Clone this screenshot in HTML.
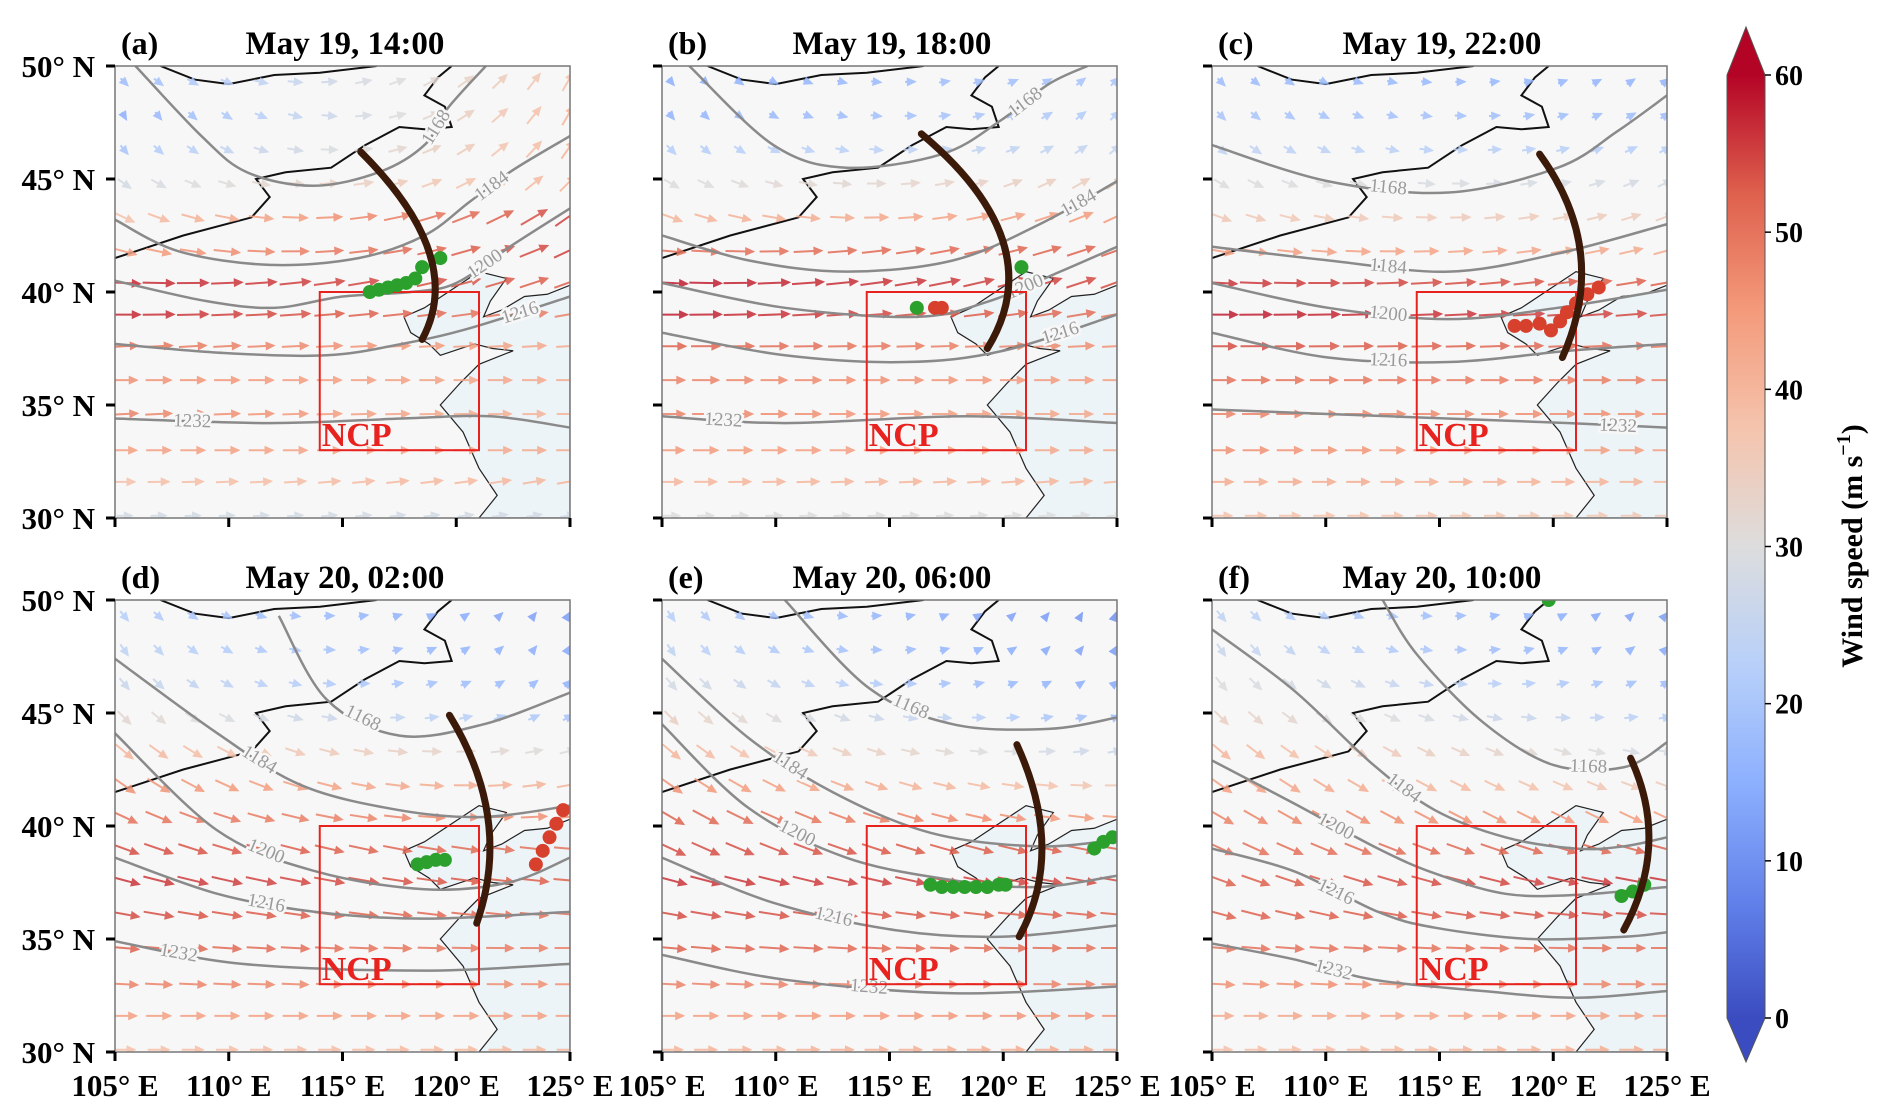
<!DOCTYPE html>
<html><head><meta charset="utf-8">
<style>
html,body{margin:0;padding:0;background:#fff;}
svg{display:block;font-family:"Liberation Serif",serif;}
</style></head>
<body>
<svg id="fig" width="1892" height="1118" viewBox="0 0 1892 1118" xmlns="http://www.w3.org/2000/svg"></svg>
<script>
// ---------- data ----------
const panelIds = ['a','b','c','d','e','f'];
const panelTitles = ['May 19, 14:00','May 19, 18:00','May 19, 22:00','May 20, 02:00','May 20, 06:00','May 20, 10:00'];
const panelOrigins = [[115,66],[662,66],[1212,66],[115,600],[662,600],[1212,600]];
const yTicks = [50,45,40,35,30];
const xTicks = [105,110,115,120,125];
const cbTicks = [0,10,20,30,40,50,60];
const rowLats = [30.1,31.6,33.0,34.6,36.1,37.6,39.0,40.4,41.8,43.3,44.8,46.3,47.8,49.3];
const colLons = [105.4,106.9,108.4,109.9,111.4,112.9,114.4,115.9,117.4,118.9,120.4,121.9,123.4,124.9];
const speedW = [
 [28,38,44,48,46,50,57,57,44,38,28,20,15,18],
 [30,40,45,48,48,52,58,58,50,40,30,22,16,15],
 [38,42,46,48,50,54,58,56,44,36,30,24,20,18],
 [38,44,48,52,54,56,54,50,46,40,32,26,24,22],
 [40,44,48,52,54,56,54,52,46,40,34,28,24,22],
 [38,42,46,50,52,52,50,48,44,40,34,30,26,24]];
const speedE = [
 [28,40,42,40,42,42,48,52,55,55,40,40,40,38],
 [30,40,42,42,44,46,50,54,52,45,35,25,22,20],
 [36,40,44,46,48,50,54,52,42,35,28,22,18,16],
 [40,44,46,48,50,52,50,46,40,30,20,16,14,12],
 [42,46,48,50,52,54,52,44,36,26,18,14,12,10],
 [42,44,48,50,54,56,52,44,35,28,22,18,14,12]];
const angW = [
 [0,0,0,3,0,3,0,-3,-15,-25,-35,-50,-60,-45],
 [0,0,0,0,0,0,0,-3,-5,-20,-30,-45,-50,-50],
 [0,0,0,0,0,0,0,-3,-10,-20,-30,-40,-45,-45],
 [0,0,-3,-5,-10,-15,-20,-25,-35,-40,-45,-50,-55,-50],
 [0,0,-3,-5,-10,-15,-25,-30,-35,-40,-45,-50,-55,-55],
 [0,0,-3,-5,-15,-20,-25,-30,-35,-40,-45,-50,-55,-50]];
const angE = [
 [10,10,0,0,0,3,10,20,25,35,45,55,60,60],
 [5,5,0,0,0,3,10,20,20,25,35,40,45,45],
 [0,0,0,0,0,3,5,10,15,20,25,30,35,40],
 [0,0,0,0,-5,-5,-5,5,10,15,30,45,60,60],
 [0,0,0,0,-5,-10,-10,-5,0,10,20,40,60,70],
 [0,0,0,0,-3,-10,-15,-25,-20,-10,10,30,45,50]];
const contourLevels = [1168,1184,1200,1216,1232];
const contourLons = [
 [[105.9,108.8,110.8,113.7,116.6,118.6,119.6,121.3],[105,107.8,111.8,115.7,118.6,120.6,122.5,125],[105,109,112,115,118,120,122.5,125],[105,109.8,114.3,117.6,120.6,125],[105,111.8,117.6,121.5,125]],
 [[106.2,109.9,113.1,117.3,119.9,122,123.7],[105,108.8,113.1,117.8,121.6,125],[105,110.4,116.2,119.4,122.5,125],[105,110.4,115.7,120,125],[105,110.4,118.4,125]],
 [[105,110.1,115.4,120.2,122.8,125],[105,110.1,115.4,120.2,125],[105,110.1,115.4,120.2,125],[105,110.1,115.4,120.7,125],[105,112.8,120.7,125]],
 [[112.2,114.3,117.5,121.2,125],[105,109.5,113.2,117.5,121.2,125],[105,109.5,113.8,118.6,122.3,125],[105,109.5,113.8,118.6,125],[105,110.6,118.6,125]],
 [[110.4,114.1,117.8,122,125],[105,108.8,112.5,116.8,121.5,125],[105,108.8,113.1,117.8,121.5,125],[105,109.9,115.2,119.9,125],[105,110.4,117.8,125]],
 [[112.5,114,116.9,120,123.1,125],[105,108.6,112.1,114.8,117.9,121,123.1,125],[105,108.6,112.3,114.8,117.9,121,125],[105,108.6,112.3,114.8,119,123.1,125],[105,108.6,112.1,116.9,121,125]]];
const contourLats = [
 [[50,46.9,45.3,44.7,45.3,46.5,48.1,50],[43.2,41.8,41.2,41.5,42.5,44,45.4,46.9],[40.5,39.6,39.3,39.8,40,40.4,42.1,43.7],[37.7,37.3,37.2,37.7,38.4,39.8],[34.4,34.2,34.4,34.5,34.0]],
 [[50,46.5,45.5,46.1,47.6,49.2,50],[42.5,41.4,40.9,41.4,43,44.9],[40.4,39.3,38.9,39.6,40.9,42],[38.2,37.2,36.9,37.4,39],[34.5,34.2,34.5,34.2]],
 [[46.5,44.9,44.4,45.5,47.1,48.7],[42,41.4,40.9,41.7,43],[40.4,39.3,38.8,39.3,40.1],[38.2,37.1,36.9,37.4,37.7],[34.8,34.5,34.2,34.0]],
 [[49.3,45.6,44,44.5,45.9],[47.4,44.1,41.8,40.7,40.4,40.9],[44.1,39.8,38,37.2,37.5,38.6],[38.6,37,36.2,35.9,36.2],[34.9,33.9,33.6,33.9]],
 [[50,46.1,44.5,44.3,44.8],[47.4,43.9,41.5,39.7,39.1,39.4],[44.5,40.8,38.6,37.6,37.3,37.8],[38.6,36.6,35.4,35.1,35.6],[34.3,33.2,32.6,32.9]],
 [[50,47.6,44.6,42.7,42.6,43.7],[48.7,46,42.7,40.7,39.5,39,39.1,39.5],[42.9,41,39,37.9,37,36.95,37.3],[39,38,36.2,35.5,35,35.1,35.3],[34.8,34.1,33.2,32.7,32.4,32.7]]];
const labelSeg = [[5,5,5,4,0],[4,4,3,3,0],[1,1,1,1,2],[1,1,1,1,0],[1,1,1,1,1],[3,2,1,1,1]];
const arcLons = [[115.8,118.8,118.5],[116.4,120,119.3],[119.4,121.2,120.4],[119.7,121.4,120.9],[120.6,121.7,120.7],[123.4,124.2,123.1]];
const arcLats = [[46.2,41.8,37.9],[47,42.2,37.5],[46.1,41.7,37.1],[44.9,40.3,35.7],[43.6,39.1,35.1],[43,39.2,35.4]];
const dotLons = [
 [116.2,116.6,117,117.4,117.8,118.2,118.5,119.3],
 [116.2,117,117.3,120.8],
 [118.3,118.8,119.4,119.9,120.3,120.6,121,121.5,122],
 [118.3,118.7,119.1,119.5,123.5,123.8,124.1,124.4,124.7],
 [116.8,117.3,117.8,118.3,118.8,119.3,119.8,120.1,124,124.4,124.8],
 [119.8,123,123.5,124]];
const dotLats = [
 [40.0,40.1,40.2,40.3,40.4,40.6,41.1,41.5],
 [39.3,39.3,39.3,41.1],
 [38.5,38.5,38.6,38.3,38.7,39.1,39.5,39.9,40.2],
 [38.3,38.4,38.5,38.5,38.3,38.9,39.5,40.1,40.7],
 [37.4,37.3,37.3,37.3,37.3,37.3,37.4,37.4,39.0,39.3,39.5],
 [50,36.9,37.1,37.4]];
const dotKinds = [
 ['g','g','g','g','g','g','g','g'],
 ['g','r','r','g'],
 ['r','r','r','r','r','r','r','r','r'],
 ['g','g','g','g','r','r','r','r','r'],
 ['g','g','g','g','g','g','g','g','g','g','g'],
 ['g','g','g','g']];
const ncpLon = [114,121], ncpLat = [33,40];
const seaLons = [125,121,121.8,121,120.3,119.3,120.2,121,122.5,121.6,120.8,119.3,118.8,118,117.7,118.6,119.5,121,122.2,121.5,121.2,122,123,124,125];
const seaLats = [30,30,31,32.2,33.8,35,36,36.8,37.4,37.5,37.7,37.2,37.7,38.2,38.9,39.3,39.9,40.9,40.6,39.6,38.9,39.2,39.8,39.9,40.3];
const borderLons = [[105,108,111,111.8,111.2,112.5,114.5,116,117.5,118.6,119.8,119.5,118.6,119.2,119.8],[107,108.5,110,112,114,116.5]];
const borderLats = [[41.5,42.5,43.3,44.2,45,45.3,45.5,46.5,47.3,47.2,47.3,48.2,48.7,49.5,50],[50,49.4,49.2,49.6,49.7,50]];

// ---------- helpers ----------
const NS='http://www.w3.org/2000/svg';
const svg=document.getElementById('fig');
function mk(tag,attrs,parent){const e=document.createElementNS(NS,tag);for(const k in attrs)e.setAttribute(k,attrs[k]);(parent||svg).appendChild(e);return e;}
const W=455,H=452;
function xs(ox,lon){return ox+(lon-105)/20*W;}
function ys(oy,lat){return oy+(50-lat)/20*H;}
function smoothPath(pts){
  let d='M'+pts[0][0]+','+pts[0][1];
  for(let i=0;i<pts.length-1;i++){
    const p0=pts[Math.max(0,i-1)],p1=pts[i],p2=pts[i+1],p3=pts[Math.min(pts.length-1,i+2)];
    const c1=[p1[0]+(p2[0]-p0[0])/6,p1[1]+(p2[1]-p0[1])/6];
    const c2=[p2[0]-(p3[0]-p1[0])/6,p2[1]-(p3[1]-p1[1])/6];
    d+=` C${c1[0]},${c1[1]} ${c2[0]},${c2[1]} ${p2[0]},${p2[1]}`;
  }
  return d;
}
const cstops=[[59,76,192],[98,130,234],[141,176,254],[184,208,249],[221,221,221],[245,196,173],[244,154,123],[222,96,77],[180,4,38]];
function cmap(v){let t=Math.max(0,Math.min(1,v/60))*8;const i=Math.min(7,Math.floor(t));const f=t-i;const a=cstops[i],b=cstops[i+1];return 'rgb('+a.map((c,k)=>Math.round(c+(b[k]-c)*f)).join(',')+')';}

const defs=mk('defs',{});
const grad=mk('linearGradient',{id:'cbg',x1:'0',y1:'1',x2:'0',y2:'0'},defs);
cstops.forEach((c,i)=>mk('stop',{offset:(i/8),'stop-color':'rgb('+c.join(',')+')'},grad));

panelIds.forEach((pid,p)=>{
  const [ox,oy]=panelOrigins[p];
  const g=mk('g',{});
  
  
  const cp=mk('clipPath',{id:'clip'+p},defs);
  mk('rect',{x:ox,y:oy,width:W,height:H},cp);
  const bg=mk('rect',{x:ox,y:oy,width:W,height:H,fill:'#f7f7f7'},g);
  
  
  const inner=mk('g',{'clip-path':'url(#clip'+p+')'},g);
  const sea=mk('polygon',{points:seaLons.map((l,i)=>xs(ox,l)+','+ys(oy,seaLats[i])).join(' '),fill:'#edf4f8',stroke:'#222','stroke-width':1.2},inner);
  
  
  borderLons.forEach((bl,bi)=>{
    const b=mk('polyline',{points:bl.map((l,i)=>xs(ox,l)+','+ys(oy,borderLats[bi][i])).join(' '),fill:'none',stroke:'#111','stroke-width':2},inner);
    
    
  });
  rowLats.forEach((lat,r)=>{
    colLons.forEach((lon,c)=>{
      const f=c/(colLons.length-1);
      const sp=speedW[p][r]*(1-f)+speedE[p][r]*f;
      const an=(angW[p][r]*(1-f)+angE[p][r]*f)*Math.PI/180;
      const L=sp*0.55, cx=xs(ox,lon), cy=ys(oy,lat);
      const dx=Math.cos(an)*L/2, dy=-Math.sin(an)*L/2;
      const col=cmap(sp);
      const ag=mk('g',{opacity:0.85},inner);
      
      
      mk('line',{x1:cx-dx,y1:cy-dy,x2:cx+dx,y2:cy+dy,stroke:col,'stroke-width':2},ag);
      const hx=cx+dx,hy=cy+dy,ux=Math.cos(an),uy=-Math.sin(an);
      const hs=8,hw=4.5;
      mk('polygon',{points:`${hx+ux*2},${hy+uy*2} ${hx-ux*hs-uy*hw},${hy-uy*hs+ux*hw} ${hx-ux*hs+uy*hw},${hy-uy*hs-ux*hw}`,fill:col},ag);
    });
  });
  contourLevels.forEach((lev,ci)=>{
    const lo=contourLons[p][ci], la=contourLats[p][ci];
    const pts=lo.map((l,i)=>[xs(ox,l),ys(oy,la[i])]);
    const pl=mk('path',{d:smoothPath(pts),fill:'none',stroke:'#8a8a8a','stroke-width':2.5,'stroke-linejoin':'round'},inner);
    
    
    const k=Math.min(labelSeg[p][ci],lo.length-2);
    const lx=(pts[k][0]+pts[k+1][0])/2, ly=(pts[k][1]+pts[k+1][1])/2;
    const ang=Math.atan2(pts[k+1][1]-pts[k][1],pts[k+1][0]-pts[k][0])*180/Math.PI;
    const t=mk('text',{x:lx,y:ly+6,'font-size':19,fill:'#9a9a9a','text-anchor':'middle',transform:`rotate(${ang} ${lx} ${ly})`,stroke:'#f7f7f7','stroke-width':5,'paint-order':'stroke'},inner);
    t.textContent=lev;
    
    
  });
  const bx=xs(ox,ncpLon[0]),bx2=xs(ox,ncpLon[1]),by=ys(oy,ncpLat[1]),by2=ys(oy,ncpLat[0]);
  const box=mk('rect',{x:bx,y:by,width:bx2-bx,height:by2-by,fill:'none',stroke:'#e8231f','stroke-width':2},inner);
  
  
  const nt=mk('text',{x:bx+2,y:by2-4,'font-size':34,'font-weight':'bold',fill:'#e8231f'},inner);
  nt.textContent='NCP';
  
  
  dotLons[p].forEach((l,i)=>{
    const d=mk('circle',{cx:xs(ox,l),cy:ys(oy,dotLats[p][i]),r:7,fill:dotKinds[p][i]==='g'?'#2ca02c':'#d6402c'},inner);
    
    
  });
  const al=arcLons[p],aa=arcLats[p];
  const p0=[xs(ox,al[0]),ys(oy,aa[0])],pm=[xs(ox,al[1]),ys(oy,aa[1])],p2=[xs(ox,al[2]),ys(oy,aa[2])];
  const ctrl=[2*pm[0]-(p0[0]+p2[0])/2,2*pm[1]-(p0[1]+p2[1])/2];
  const arc=mk('path',{d:`M${p0[0]},${p0[1]} Q${ctrl[0]},${ctrl[1]} ${p2[0]},${p2[1]}`,fill:'none',stroke:'#3b1a0a','stroke-width':7,'stroke-linecap':'round'},inner);
  
  
  const fr=mk('rect',{x:ox,y:oy,width:W,height:H,fill:'none',stroke:'#777','stroke-width':1.5},g);
  
  
  yTicks.forEach(v=>{
    const y=ys(oy,v);
    mk('line',{x1:ox-9,y1:y,x2:ox,y2:y,stroke:'#000','stroke-width':3},g);
    if(p%3===0){
      const t=mk('text',{x:ox-20,y:y+11,'font-size':31,'font-weight':'bold','text-anchor':'end'},g);
      t.textContent=v+'° N';
      
      
    }
  });
  xTicks.forEach(v=>{
    const x=xs(ox,v);
    mk('line',{x1:x,y1:oy+H,x2:x,y2:oy+H+9,stroke:'#000','stroke-width':3},g);
    if(p>=3){
      const t=mk('text',{x:x,y:oy+H+44,'font-size':31,'font-weight':'bold','text-anchor':'middle'},g);
      t.textContent=v+'° E';
      
      
    }
  });
  const pl=mk('text',{x:ox+6,y:oy-12,'font-size':32,'font-weight':'bold'},g);
  pl.textContent='('+pid+')';
  
  
  const tt=mk('text',{x:ox+230,y:oy-12,'font-size':33,'font-weight':'bold','text-anchor':'middle'},g);
  tt.textContent=panelTitles[p];
  
  
});

const cb=mk('g',{});


const cbx=1727,cbw=38,cbTop=75,cbBot=1018;
mk('rect',{x:cbx,y:cbTop,width:cbw,height:cbBot-cbTop,fill:'url(#cbg)'},cb);
mk('polygon',{points:`${cbx},${cbTop} ${cbx+cbw/2},27 ${cbx+cbw},${cbTop}`,fill:cmap(60)},cb);
mk('polygon',{points:`${cbx},${cbBot} ${cbx+cbw/2},1062 ${cbx+cbw},${cbBot}`,fill:cmap(0)},cb);
mk('polygon',{points:`${cbx},${cbTop} ${cbx+cbw/2},27 ${cbx+cbw},${cbTop} ${cbx+cbw},${cbBot} ${cbx+cbw/2},1062 ${cbx},${cbBot}`,fill:'none',stroke:'#555','stroke-width':1},cb);
cbTicks.forEach(v=>{
  const y=cbBot-(v/60)*(cbBot-cbTop);
  mk('line',{x1:cbx+cbw,y1:y,x2:cbx+cbw+6,y2:y,stroke:'#000','stroke-width':1.5},cb);
  const t=mk('text',{x:1775,y:y+10,'font-size':28,'font-weight':'bold'},cb);
  t.textContent=v;
  
  
});
const ct=mk('text',{x:1862,y:546,'font-size':30,'font-weight':'bold','text-anchor':'middle',transform:'rotate(-90 1862 546)'},cb);
ct.innerHTML='Wind speed (m s<tspan dy="-12" font-size="20">−1</tspan><tspan dy="12">)</tspan>';


</script>
</body></html>
